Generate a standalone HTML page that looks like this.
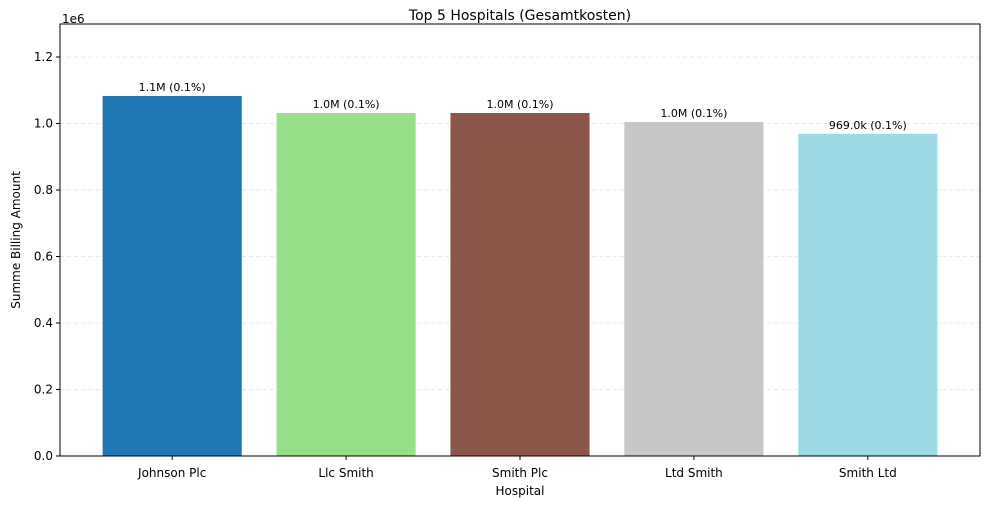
<!DOCTYPE html>
<html><head><meta charset="utf-8"><style>
body{margin:0;background:#fff;font-family:"Liberation Sans","DejaVu Sans",sans-serif;}
svg text{font-family:"DejaVu Sans","Liberation Sans",sans-serif;}
</style></head><body>
<svg id="chart" width="989" height="509" xmlns="http://www.w3.org/2000/svg"></svg>
<script>
const categories=["Johnson Plc","Llc Smith","Smith Plc","Ltd Smith","Smith Ltd"];
const values=[1082700,1031600,1031600,1004500,969000];
const labels=["1.1M (0.1%)","1.0M (0.1%)","1.0M (0.1%)","1.0M (0.1%)","969.0k (0.1%)"];
const colors=["#1f77b4","#98df8a","#8c564b","#c7c7c7","#9edae5"];
const yTicks=[0,0.2,0.4,0.6,0.8,1.0,1.2];
const yTickLabels=["0.0","0.2","0.4","0.6","0.8","1.0","1.2"];
const svg=document.getElementById('chart');
const NS="http://www.w3.org/2000/svg";
const L=60,R=980,T=24,B=456;
const yMax=Math.max(...values)*1.2;
const y=v=>B-(v/yMax)*(B-T);
const step=(R-L)/(categories.length-1+1.29);
const x=i=>L+step*0.645+i*step;
const bw=step*0.8;
function mk(tag,attrs,parent){const e=document.createElementNS(NS,tag);for(const k in attrs)e.setAttribute(k,attrs[k]);(parent||svg).appendChild(e);return e;}
yTicks.forEach((t,i)=>{
 const yy=y(t*1e6);
 const g=mk('line',{x1:L,x2:R,y1:yy,y2:yy,stroke:'#ccc','stroke-dasharray':'4,3','stroke-width':0.8,opacity:0.6});
 
 
 const tk=mk('line',{x1:L-4,x2:L,y1:yy,y2:yy,stroke:'#000'});
 
 
 const tx=mk('text',{x:L-7,y:yy+4,'text-anchor':'end','font-size':12});
 tx.textContent=yTickLabels[i];
 
 
});
categories.forEach((c,i)=>{
 const cx=x(i);
 const r=mk('rect',{x:cx-bw/2,y:y(values[i]),width:bw,height:B-y(values[i]),fill:colors[i]});
 
 
 const vl=mk('text',{x:cx,y:y(values[i])-5,'text-anchor':'middle','font-size':11});
 vl.textContent=labels[i];
 
 
 const tk=mk('line',{x1:cx,x2:cx,y1:B,y2:B+4,stroke:'#000'});
 
 
 const tl=mk('text',{x:cx,y:B+21,'text-anchor':'middle','font-size':12});
 tl.textContent=c;
 
 
});
const fr=mk('rect',{x:L,y:T,width:R-L,height:B-T,fill:'none',stroke:'#000','stroke-width':1});


</script>
<div style="position:absolute;left:0;top:0;width:989px;height:509px;pointer-events:none;font-family:'DejaVu Sans','Liberation Sans',sans-serif;">
<div style="position:absolute;left:60px;width:920px;top:8px;text-align:center;font-size:14px;">Top 5 Hospitals (Gesamtkosten)</div>
<div style="position:absolute;left:62px;top:12px;font-size:12px;">1e6</div>
<div style="position:absolute;left:60px;width:920px;top:484px;text-align:center;font-size:12px;">Hospital</div>
<div style="position:absolute;left:16px;top:240px;font-size:12px;transform:translate(-50%,-50%) rotate(-90deg);white-space:nowrap;">Summe Billing Amount</div>
</div>
</body></html>
